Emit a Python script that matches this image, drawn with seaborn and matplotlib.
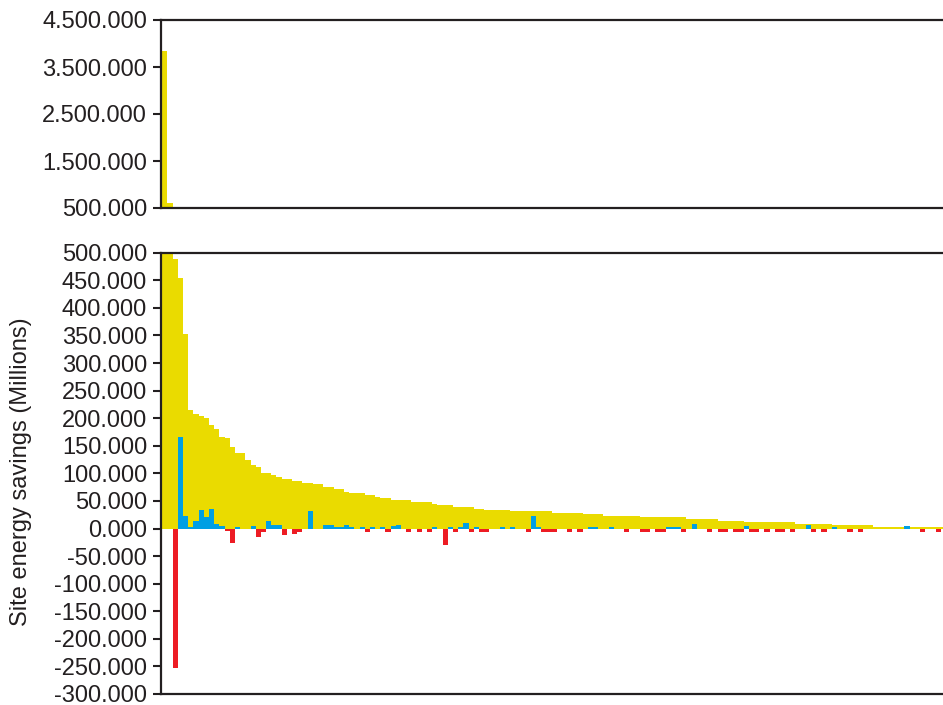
import numpy as np
import pandas as pd
import matplotlib
matplotlib.use("Agg")
import matplotlib.pyplot as plt
import seaborn as sns
from matplotlib.ticker import FixedLocator, FuncFormatter

# Total site energy savings per project, ranked from largest to smallest
total = [
    3833, 610, 488, 455, 353, 215, 208, 204, 200, 187,
    181, 166, 164, 148, 137, 137, 124, 115, 112, 101,
    101, 97, 94, 89.5, 89.5, 86, 86, 83, 83, 81,
    81, 75, 75, 72, 72, 67, 64, 64, 64, 61,
    61, 58, 55, 55, 52, 52, 52, 52, 48, 48,
    48, 48, 45, 42, 42, 42, 39, 39, 39, 39,
    36, 36, 33, 33, 33, 33, 33, 31, 31, 31,
    31, 31, 31, 31, 31, 28, 28, 28, 28, 28,
    28, 26, 26, 26, 26, 23, 23, 23, 23, 23,
    23, 23, 20.7, 20.7, 20.7, 20.7, 20.7, 20.7, 20.7, 20.7,
    20.7, 17, 17, 17, 17, 17, 17, 14.5, 14.5, 14.5,
    14.5, 14.5, 12, 12, 12, 12, 12, 12, 12, 12,
    12, 12, 9, 9, 9, 9, 9, 9, 9, 6.7,
    6.7, 6.7, 6.7, 6.7, 6.7, 6.7, 6.7, 3, 3, 3,
    3, 3, 3, 3, 3, 3, 3, 3, 3, 3,
    3,
]

# Change in savings for the same projects (0 = no change recorded)
change = [
    0, 0, -252, 166, 23, 3, 14, 34, 21, 35,
    8, 4.5, -5, -27, 3, 0, 0, 5, -16, -5.5,
    13, 6.5, 6.5, -12, 0, -10, -6, 0, 31, 0,
    0, 6.5, 6.5, 3, 2, 6, 3, 0, 3, -6,
    3, 0, 3, -6, 5, 7, 0, -6, 0, -6,
    0, -6, 3, 0, -29, 3, -6, 3, 10, -6,
    3, -6, -6, 0, 0, 3, 0, 3, 0, 0,
    -6, 23, 3, -6, -6, -6, 0, 0, -6, 0,
    -6, 0, 3, 3, 0, 0, 3, 0, 0, -6,
    0, 0, -6, -6, 0, -6, -6, 3, 3, 3,
    -6, 0, 9, 0, 0, -6, 0, -6, -6, 0,
    -6, -6, 5, -6, -6, 0, -6, 0, -6, -6,
    0, -6, 0, 0, 7, -6, 0, -6, 0, 3,
    0, 0, -6, 0, -6, 0, 0, 0, 0, 0,
    0, 0, 0, 5, 0, 0, -6, 0, 0, -6,
    0,
]

project = list(range(len(total)))

top_ticks = [500, 1500, 2500, 3500, 4500]
bottom_ticks = [-300, -250, -200, -150, -100, -50, 0, 50, 100, 150,
                200, 250, 300, 350, 400, 450, 500]
y_label = "Site energy savings (Millions)"

sns.set_style("ticks")
plt.rcParams['font.family'] = ['Liberation Sans', 'DejaVu Sans']

YELLOW = '#EADB00'
BLUE = '#009FE3'
RED = '#ED1C24'
INK = '#231F20'
FONT_SIZE = 17

df = pd.DataFrame({'project': project, 'total': total, 'change': change})
df['direction'] = np.where(df['change'] > 0, 'gain', 'loss')
moves = df[df['change'] != 0]

W, H = 943, 705
fig = plt.figure(figsize=(W / 100, H / 100), dpi=100)
left = 161 / W
ax_top = fig.add_axes([left, (H - 208) / H, 1 - left, 188 / H])
ax_bot = fig.add_axes([left, (H - 694) / H, 1 - left, (694 - 252.7) / H])

for ax in (ax_top, ax_bot):
    sns.barplot(data=df, x='project', y='total', order=project,
                color=YELLOW, saturation=1, width=1, errorbar=None,
                linewidth=0, ax=ax)

sns.barplot(data=moves, x='project', y='change', hue='direction',
            order=project, hue_order=['gain', 'loss'],
            palette={'gain': BLUE, 'loss': RED}, saturation=1, width=1,
            errorbar=None, linewidth=0, dodge=False, legend=False, ax=ax_bot)


def thousands(v, pos=None):
    return f"{v:,.3f}".replace(',', '.')


ax_top.set_ylim(500, 4500)
ax_top.yaxis.set_major_locator(FixedLocator(top_ticks))
ax_bot.set_ylim(-300, 500)
ax_bot.yaxis.set_major_locator(FixedLocator(bottom_ticks))

pitch = 5.19
for ax in (ax_top, ax_bot):
    ax.set_xlim(-0.75, -0.75 + (W - 161) / pitch)
    ax.set_xticks([])
    ax.set_xlabel('')
    ax.set_ylabel('')
    ax.yaxis.set_major_formatter(FuncFormatter(thousands))
    ax.tick_params(axis='y', direction='out', length=6, width=1.5,
                   color=INK, labelsize=FONT_SIZE, labelcolor=INK, pad=4)
    for side in ('left', 'top', 'bottom'):
        ax.spines[side].set_visible(True)
        ax.spines[side].set_linewidth(1.6)
        ax.spines[side].set_color(INK)
    ax.spines['right'].set_visible(False)
    ax.set_facecolor('white')

fig.text(21 / W, (H - 472) / H, y_label, rotation=90, ha='center',
         va='center', fontsize=FONT_SIZE, color=INK)

fig.savefig('out.png', dpi=100, facecolor='white')
